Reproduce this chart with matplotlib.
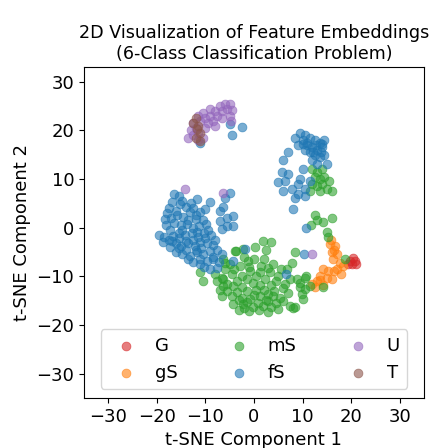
import matplotlib
matplotlib.use("Agg")
import matplotlib.pyplot as plt
import numpy as np

classes = ["G", "gS", "mS", "fS", "U", "T"]
colors = ["tab:red", "tab:orange", "tab:green", "tab:blue", "tab:purple", "tab:brown"]

G_x = [19.8, 20.8, 20.1, 19.4, 20.4, 21.0]
G_y = [-6.9, -6.9, -7.5, -7.5, -6.2, -7.4]

gS_x = [15.6, 16.7, 16.0, 17.0, 16.3, 17.7, 18.4, 14.2, 15.3, 13.6, 15.0, 12.9, 14.3, 12.6,
        18.0, 16.0, 15.8, 17.2, 16.5, 13.5, 16.5, 12.0]
gS_y = [-3.4, -3.8, -5.1, -5.5, -6.5, -7.2, -7.9, -8.6, -8.9, -9.9, -10.3, -11.0, -11.7, -12.3,
        -9.6, -10.6, -2.5, -8.5, -9.0, -10.8, -4.5, -11.5]

mS_x = [12.0, 13.0, 14.0, 12.5, 13.5, 14.5, 12.0, 13.0, 14.0, 15.0, 16.0, 13.5, 11.5, 15.5,
        11.8, 13.0, 14.3, 16.0, 15.0, 15.3, 12.5,
        0.2, 1.9, 3.5, 2.5, -3.6, -2.2,
        -6.3, -6.0, -4.6, -2.9, -1.2, -0.8, -2.5, 1.2, 3.3, 5.0, -6.6, -6.3, -4.3, -2.5, -0.1, 1.2,
        3.6, -6.6, -4.6, -2.5, -0.8, 1.2, 2.9, 5.3, -4.3, -2.2, -0.1, 1.9, 3.6, 6.0, 7.4,
        -5.0, -3.5, -1.5, 0.5, 2.2, 4.5, -5.5, -3.5, -1.5, 0.5, 2.0, 4.2, -1.5, 0.8, 2.8, 4.5,
        -3.0, -1.0, 1.0, 3.0, 5.0, 0.0, -2.0, 2.0, 4.0, 6.0, -7.5, -8.0,
        -11.1, -10.4, -6.0, -6.4, -3.9,
        8.4, 7.8, 8.8, 10.5, 9.5, 8.4, 10.1, 10.8, 9.5, 10.5, 11.5, 9.8, 8.1, 7.0, 14.3, 18.7, 7.5,
        -4.0, -1.0, 1.5, 3.0, 5.5, -5.5, 6.5, -3.0, 0.0, 2.5, -7.0, 6.8, -2.0, 4.0]
mS_y = [12.0, 11.5, 12.0, 10.5, 10.0, 10.5, 9.0, 8.5, 9.0, 8.0, 7.5, 7.5, 7.5, 9.5,
        0.5, 1.5, 1.2, 2.0, -0.8, -2.0, 2.5,
        -4.0, -2.8, -3.0, -4.5, -4.8, -4.4,
        -6.5, -8.6, -9.6, -7.9, -6.9, -8.9, -9.9, -9.2, -9.2, -9.9, -10.3, -12.0, -12.0, -12.3, -11.3, -11.7,
        -11.7, -14.1, -14.1, -14.4, -14.7, -14.1, -13.7, -14.4, -15.8, -15.8, -16.4, -16.1, -16.4, -15.1, -16.1,
        -7.5, -11.0, -10.5, -10.0, -10.5, -11.0, -13.0, -13.2, -13.0, -12.8, -12.8, -13.0, -15.2, -15.5, -15.0, -15.5,
        -17.0, -17.2, -17.0, -17.3, -16.8, -6.5, -6.0, -6.5, -7.5, -12.5, -11.0, -9.5,
        -9.2, -11.0, -7.2, -10.6, -4.8,
        -5.1, -7.2, -10.6, -10.3, -12.3, -16.4, -14.7, -9.9, -11.3, -12.7, -12.0, -13.7, -16.5, -13.5, -12.3, -6.5, -10.5,
        -8.5, -8.0, -7.8, -8.2, -8.5, -11.5, -11.5, -14.8, -13.8, -14.8, -12.8, -8.5, -16.5, -14.0]

fS_x = [-16.5, -15.5, -14.8, -16.8, -15.2, -13.0, -11.8, -12.5, -13.2, -11.1, -9.1,
        -17.8, -17.0, -15.8, -14.5, -12.0, -10.5,
        -18.0, -16.5, -15.0, -13.8, -12.5, -11.2, -17.2, -14.8,
        -19.5, -18.5, -16.6, -15.5, -14.2, -12.8, -11.5, -10.3, -9.5,
        -18.7, -17.3, -16.0, -15.0, -13.5, -12.2, -11.0, -9.7, -8.5,
        -16.0, -14.9, -13.2, -11.8, -10.5, -9.1, -7.5, -6.5,
        -12.5, -11.0, -9.7, -8.4, -7.2, -7.7, -9.1, -10.2,
        -6.0, -4.9, -7.0, -6.4, -4.3, -7.0, -5.6, -6.6, -4.3, -5.5,
        -4.9, -2.5, -4.6, -11.1,
        -1.9, -4.3, 6.6, 10.3, 10.8,
        9.5, 10.5, 11.5, 12.5, 13.5, 10.0, 11.0, 12.0, 13.0, 14.0, 14.5, 12.5, 11.5, 13.5, 10.5,
        9.0, 8.5, 12.0, 13.0, 15.0, 14.5,
        7.0, 6.0, 5.8, 5.0, 6.5, 7.0, 7.8, 8.5, 8.0, 9.5, 10.0, 9.0, 10.5, 9.0, 6.0, 11.5, 10.5,
        -17.5, -16.0, -14.0, -12.0, -10.0, -18.2, -16.8, -13.5, -11.8, -9.8, -17.5, -15.5, -14.0,
        -12.5, -10.0, -8.8, -14.0, -12.0, -10.8, -8.0, -13.5, -11.0, -8.5, -15.5,
        11.0, 12.8, 14.0, 12.2, 10.2, 13.8]
fS_y = [7.0, 6.5, 5.5, 5.2, 4.8, 5.0, 5.8, 4.0, 3.2, 3.2, 5.3,
        3.0, 2.0, 2.5, 2.2, 1.8, 1.5,
        0.5, 1.0, 0.5, 0.8, 0.0, 0.3, -0.5, -0.5,
        -1.5, -2.0, -1.8, -1.2, -1.6, -1.2, -2.0, -1.2, -0.5,
        -3.0, -4.0, -3.2, -3.8, -3.2, -3.8, -3.0, -3.1, -3.5,
        -5.0, -5.5, -5.8, -5.0, -5.5, -4.8, -4.5, -5.5,
        -7.0, -7.5, -6.9, -6.5, -7.0, -8.2, -8.6, -8.0,
        6.2, 7.1, 3.4, 4.2, 2.4, 1.4, 0.3, -0.3, 0.3, 2.0,
        21.3, 20.7, 19.0, 17.5,
        -4.4, -6.9, -9.6, -5.4, 0.0,
        19.5, 19.0, 18.5, 18.0, 17.5, 18.0, 17.0, 16.5, 16.0, 16.5, 15.0, 15.0, 15.5, 14.5, 16.0,
        17.0, 18.5, 14.0, 13.0, 13.0, 18.0,
        15.5, 14.0, 11.5, 9.3, 9.5, 11.0, 8.0, 6.0, 3.8, 10.0, 12.0, 9.0, 8.0, 7.0, 7.5, 9.5, 6.5,
        4.0, 3.5, 4.2, 2.5, 3.8, 1.8, -2.8, 1.5, -0.8, 0.8, -2.5, -2.2, -2.8,
        -2.5, -2.2, -1.5, -4.5, -4.6, -4.2, -2.5, -6.5, -6.5, -6.0, -4.2,
        17.5, 17.0, 17.3, 15.5, 17.3, 15.5]

U_x = [-13.5, -12.5, -13.0, -12.0, -11.5, -12.5, -11.0, -11.5, -10.5, -10.0, -9.5, -10.0, -9.0,
       -9.0, -8.0, -8.5, -7.5, -7.0, -6.5, -6.0, -5.5, -5.0, -4.5, -5.0, -6.5, -8.0, -10.5, -11.5,
       -4.8, -14.2, -6.3, 11.9]
U_y = [18.5, 19.0, 20.0, 20.5, 19.5, 21.5, 22.0, 23.0, 23.5, 22.5, 21.5, 20.5, 23.0,
       24.5, 24.0, 22.0, 23.0, 25.0, 24.0, 25.5, 24.5, 25.5, 24.3, 23.0, 22.5, 21.0, 18.5, 18.0,
       22.0, 7.9, 7.1, -5.4]

T_x = [-12.5, -12.0, -11.5, -11.0, -12.0, -11.0, -11.8]
T_y = [21.5, 22.5, 21.0, 19.5, 18.5, 17.8, 20.2]

xs = [G_x, gS_x, mS_x, fS_x, U_x, T_x]
ys = [G_y, gS_y, mS_y, fS_y, U_y, T_y]

fig = plt.figure(figsize=(4.30, 4.48), dpi=100)
ax = fig.add_axes([0.195, 0.112, 0.791, 0.738])
for name, c, x, y in zip(classes, colors, xs, ys):
    ax.scatter(x, y, s=40, c=c, alpha=0.6, label=name, linewidths=0.6)

ax.set_xlim(-35, 35)
ax.set_ylim(-35, 33)
ax.set_xticks([-30, -20, -10, 0, 10, 20, 30])
ax.set_yticks([-30, -20, -10, 0, 10, 20, 30])
ax.tick_params(labelsize=13)
ax.set_xlabel("t-SNE Component 1", fontsize=13)
ax.set_ylabel("t-SNE Component 2", fontsize=13)
ax.set_title("2D Visualization of Feature Embeddings\n(6-Class Classification Problem)", fontsize=12.6)
ax.legend(loc="lower center", ncol=3, fontsize=13, columnspacing=2.4, handletextpad=0.6)

fig.savefig("out.png", dpi=100)
